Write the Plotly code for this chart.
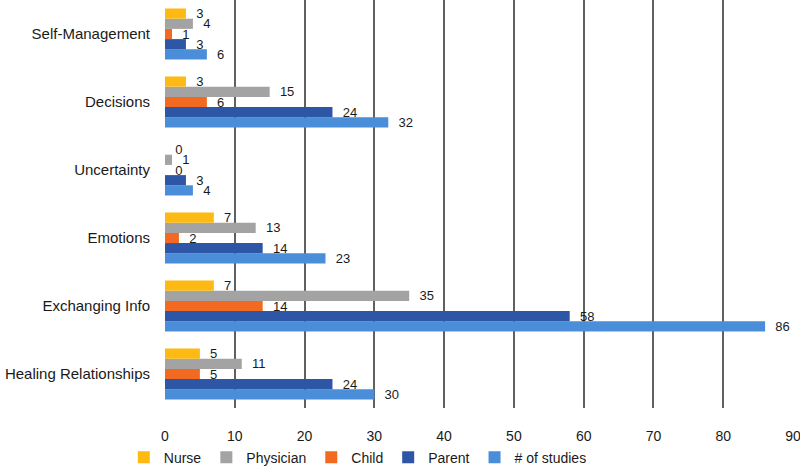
import plotly.graph_objects as go

categories = ["Healing Relationships", "Exchanging Info", "Emotions", "Uncertainty", "Decisions", "Self-Management"]
nurse = [5, 7, 7, 0, 3, 3]
physician = [11, 35, 13, 1, 15, 4]
child = [5, 14, 2, 0, 6, 1]
parent = [24, 58, 14, 3, 24, 3]
studies = [30, 86, 23, 4, 32, 6]
x_ticks = [0, 10, 20, 30, 40, 50, 60, 70, 80, 90]

series = [
    ("# of studies", studies, "#4A8DD8", 5),
    ("Parent", parent, "#2E56A6", 4),
    ("Child", child, "#F26A22", 3),
    ("Physician", physician, "#A3A3A3", 2),
    ("Nurse", nurse, "#FDBA12", 1),
]

FONT = "Liberation Sans, Arial, sans-serif"

fig = go.Figure()
for name, vals, color, rank in series:
    fig.add_trace(go.Bar(
        y=categories, x=vals, name=name, orientation="h",
        marker=dict(color=color, line=dict(width=0)),
        text=["  " + str(v) for v in vals], textposition="outside",
        constraintext="none",
        textfont=dict(family=FONT, size=13, color="#1a1a1a"),
        cliponaxis=False, legendrank=rank,
    ))

fig.update_layout(
    width=800, height=468,
    barmode="group", bargap=0.25, bargroupgap=0,
    plot_bgcolor="white", paper_bgcolor="white",
    margin=dict(l=165, r=7, t=0, b=60, autoexpand=False),
    font=dict(family=FONT, size=14, color="#1a1a1a"),
    xaxis=dict(range=[0, 90], tickvals=x_ticks, showgrid=True, gridcolor="#606060", gridwidth=2,
               zeroline=False, showline=False, ticks="outside", ticklen=15, tickwidth=1,
               tickcolor="white", tickfont=dict(size=14), ticklabeloverflow="allow",
               automargin=False),
    yaxis=dict(showgrid=False, zeroline=False, showline=False, ticks="",
               tickfont=dict(size=15), ticklabelstandoff=14, automargin=False),
    legend=dict(orientation="h", x=0.307, xanchor="center", yref="container", y=0.022,
                yanchor="middle", font=dict(size=14), itemwidth=30, tracegroupgap=0),
    showlegend=True,
)

fig.write_html("out.html", config={"displayModeBar": False},
               post_script="document.body.style.margin='0';")
